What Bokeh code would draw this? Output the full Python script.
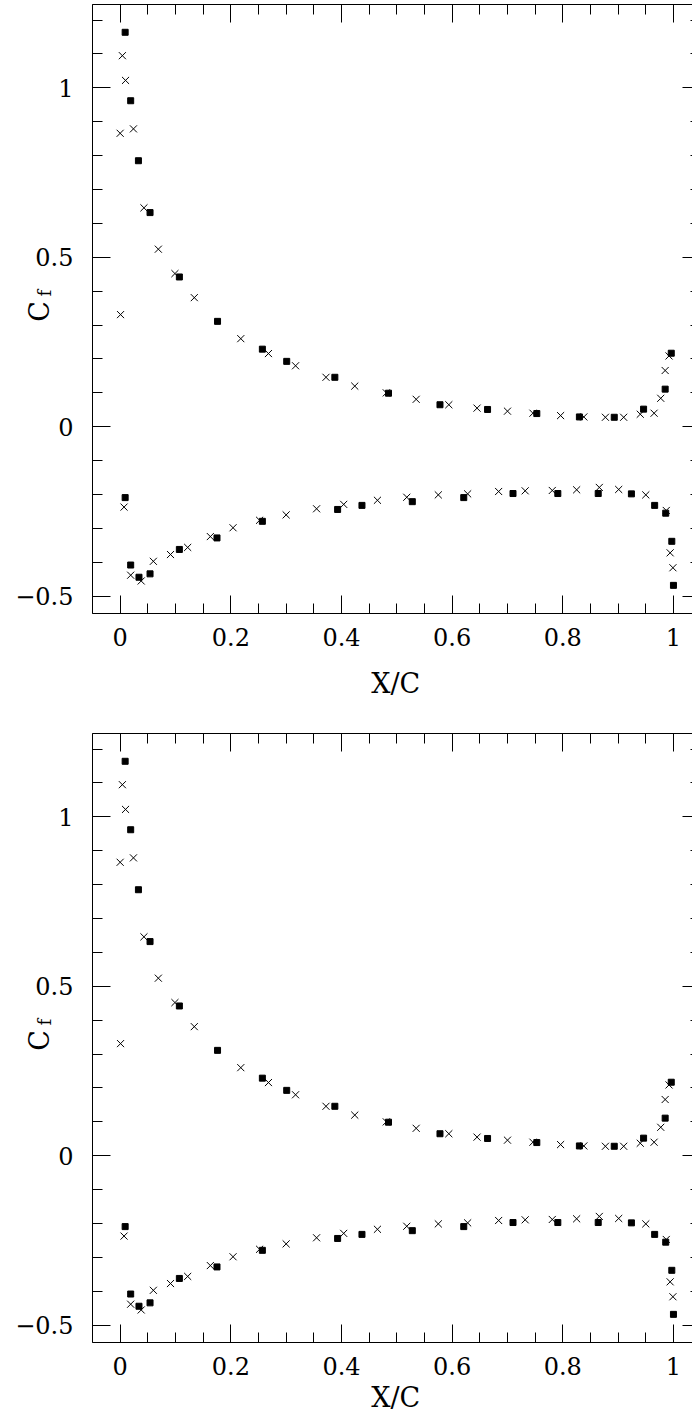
from bokeh.plotting import figure
from bokeh.layouts import column
from bokeh.models import (LinearAxis, SingleIntervalTicker, CustomJSTickFormatter, Label,
                          CustomLabelingPolicy)
from bokeh.embed import file_html
from bokeh.resources import INLINE

# ---------------- data ----------------
# crosses (x markers)
cross_x = [0.004, 0.0097, 0.0, 0.024, 0.043, 0.069, 0.099, 0.134, 0.0007, 0.218, 0.268,
           0.317, 0.372, 0.424, 0.481, 0.535, 0.594, 0.645, 0.700, 0.746, 0.796, 0.838,
           0.877, 0.910, 0.940, 0.965, 0.977, 0.985, 0.992,
           0.007, 0.019, 0.038, 0.060, 0.091, 0.122, 0.163, 0.204, 0.252, 0.300, 0.355,
           0.404, 0.465, 0.518, 0.575, 0.628, 0.684, 0.732, 0.781, 0.825, 0.866, 0.901,
           0.950, 0.987, 0.994, 0.999]
cross_y = [1.095, 1.022, 0.866, 0.879, 0.646, 0.524, 0.452, 0.381, 0.331, 0.260, 0.216,
           0.180, 0.146, 0.120, 0.100, 0.081, 0.065, 0.055, 0.046, 0.040, 0.033, 0.029,
           0.028, 0.028, 0.037, 0.040, 0.084, 0.166, 0.209,
           -0.237, -0.438, -0.455, -0.397, -0.377, -0.356, -0.324, -0.298, -0.276, -0.260, -0.242,
           -0.229, -0.217, -0.208, -0.201, -0.198, -0.191, -0.189, -0.188, -0.186, -0.179, -0.185,
           -0.201, -0.247, -0.372, -0.416]
# filled squares
square_x = [0.009, 0.019, 0.033, 0.054, 0.107, 0.176, 0.257, 0.301, 0.388, 0.485, 0.578,
            0.664, 0.753, 0.830, 0.893, 0.946, 0.985, 0.996,
            0.009, 0.019, 0.034, 0.054, 0.107, 0.175, 0.257, 0.393, 0.437, 0.528, 0.621,
            0.710, 0.791, 0.864, 0.924, 0.966, 0.986, 0.997, 1.000]
square_y = [1.164, 0.962, 0.785, 0.632, 0.442, 0.311, 0.229, 0.193, 0.146, 0.099, 0.065,
            0.051, 0.039, 0.029, 0.028, 0.052, 0.111, 0.217,
            -0.209, -0.408, -0.444, -0.434, -0.362, -0.328, -0.279, -0.244, -0.232, -0.221, -0.209,
            -0.197, -0.197, -0.197, -0.198, -0.232, -0.255, -0.338, -0.468]

x_tick_values = [0, 0.2, 0.4, 0.6, 0.8, 1.0]
x_tick_labels = ["0", "0.2", "0.4", "0.6", "0.8", "1"]
y_tick_values = [-0.5, 0, 0.5, 1.0]
y_tick_labels = ["\u22120.5", "0", "0.5", "1"]

x_title = "X/C"
y_title_main = "C"
y_title_sub = "f"

FONT = "DejaVu Serif"
CODE = """
for (let i = 0; i < vals.length; i++) {
    if (Math.abs(tick - vals[i]) < 1e-6) { return labs[i]; }
}
return "";
"""


def style_axis(ax, ticker, fmt, show_labels, major_in, minor_in, show_line=True):
    ax.ticker = ticker
    ax.formatter = fmt
    ax.major_tick_in = major_in
    ax.major_tick_out = 0
    ax.minor_tick_in = minor_in
    ax.minor_tick_out = 0
    ax.major_tick_line_color = "black"
    ax.minor_tick_line_color = "black"
    ax.axis_line_color = "black" if show_line else None
    ax.major_label_text_font = FONT
    ax.major_label_text_color = "black"
    if show_labels:
        ax.major_label_text_font_size = "24px"
        # a tiny spacer label with negative standoff keeps the frame where it is,
        # leaving room for the title labels placed in the same side panel
        ax.axis_label = "\u00a0"
        ax.axis_label_text_font_size = "1px"
        ax.axis_label_standoff = -55
    else:
        ax.major_label_text_font_size = "0px"
        ax.major_label_standoff = 0
        ax.major_label_policy = CustomLabelingPolicy(code="return []")


def make_panel(border_top, border_bottom, xtitle_y):
    p = figure(frame_width=600, frame_height=609,
               x_range=(-0.05, -0.05 + 600 / 553.3), y_range=(-0.551, 1.246),
               output_backend="svg", toolbar_location=None,
               min_border_left=92, min_border_right=0, min_border_top=border_top,
               min_border_bottom=border_bottom,
               x_axis_location=None, y_axis_location=None)
    p.outline_line_color = None
    p.xgrid.visible = False
    p.ygrid.visible = False
    p.background_fill_color = "white"
    p.border_fill_color = "white"

    xt = SingleIntervalTicker(interval=0.2, num_minor_ticks=4)
    yt = SingleIntervalTicker(interval=0.5, num_minor_ticks=5)
    xf = CustomJSTickFormatter(args=dict(vals=x_tick_values, labs=x_tick_labels), code=CODE)
    yf = CustomJSTickFormatter(args=dict(vals=y_tick_values, labs=y_tick_labels), code=CODE)

    bottom = LinearAxis()
    style_axis(bottom, xt, xf, True, 18, 10)
    bottom.major_label_standoff = 14
    bottom.axis_label_standoff = -38
    p.add_layout(bottom, "below")

    left = LinearAxis()
    style_axis(left, yt, yf, True, 18, 10)
    left.major_label_standoff = 19
    p.add_layout(left, "left")

    top = LinearAxis()
    style_axis(top, xt, xf, False, 18, 10)
    p.add_layout(top, "above")

    right = LinearAxis()
    style_axis(right, yt, yf, False, 10, 2, show_line=False)
    p.add_layout(right, "right")

    p.scatter(cross_x, cross_y, marker="x", size=10, line_color="black", line_width=1)
    p.scatter(square_x, square_y, marker="square", size=6, fill_color="black",
              line_color="black", line_width=1)

    # titles as labels placed in the side panels (not clipped to the frame)
    p.add_layout(Label(x=0.498, y=xtitle_y, text=x_title, text_align="center",
                       text_baseline="alphabetic", text_font=FONT,
                       text_font_size="27px", text_color="black"), "below")
    p.add_layout(Label(x=-0.146, y=0.34, text=y_title_main, angle=90, angle_units="deg",
                       text_align="center", text_baseline="alphabetic", text_font=FONT,
                       text_font_size="27px", text_color="black"), "left")
    p.add_layout(Label(x=-0.137, y=0.394, text=y_title_sub, angle=90, angle_units="deg",
                       text_align="center", text_baseline="alphabetic", text_font=FONT,
                       text_font_size="18px", text_color="black"), "left")
    return p


p1 = make_panel(4, 120, -0.757)
p2 = make_panel(0, 70, -0.713)
layout = column(p1, p2, spacing=0)

open("out.html", "w").write(file_html(layout, INLINE))
